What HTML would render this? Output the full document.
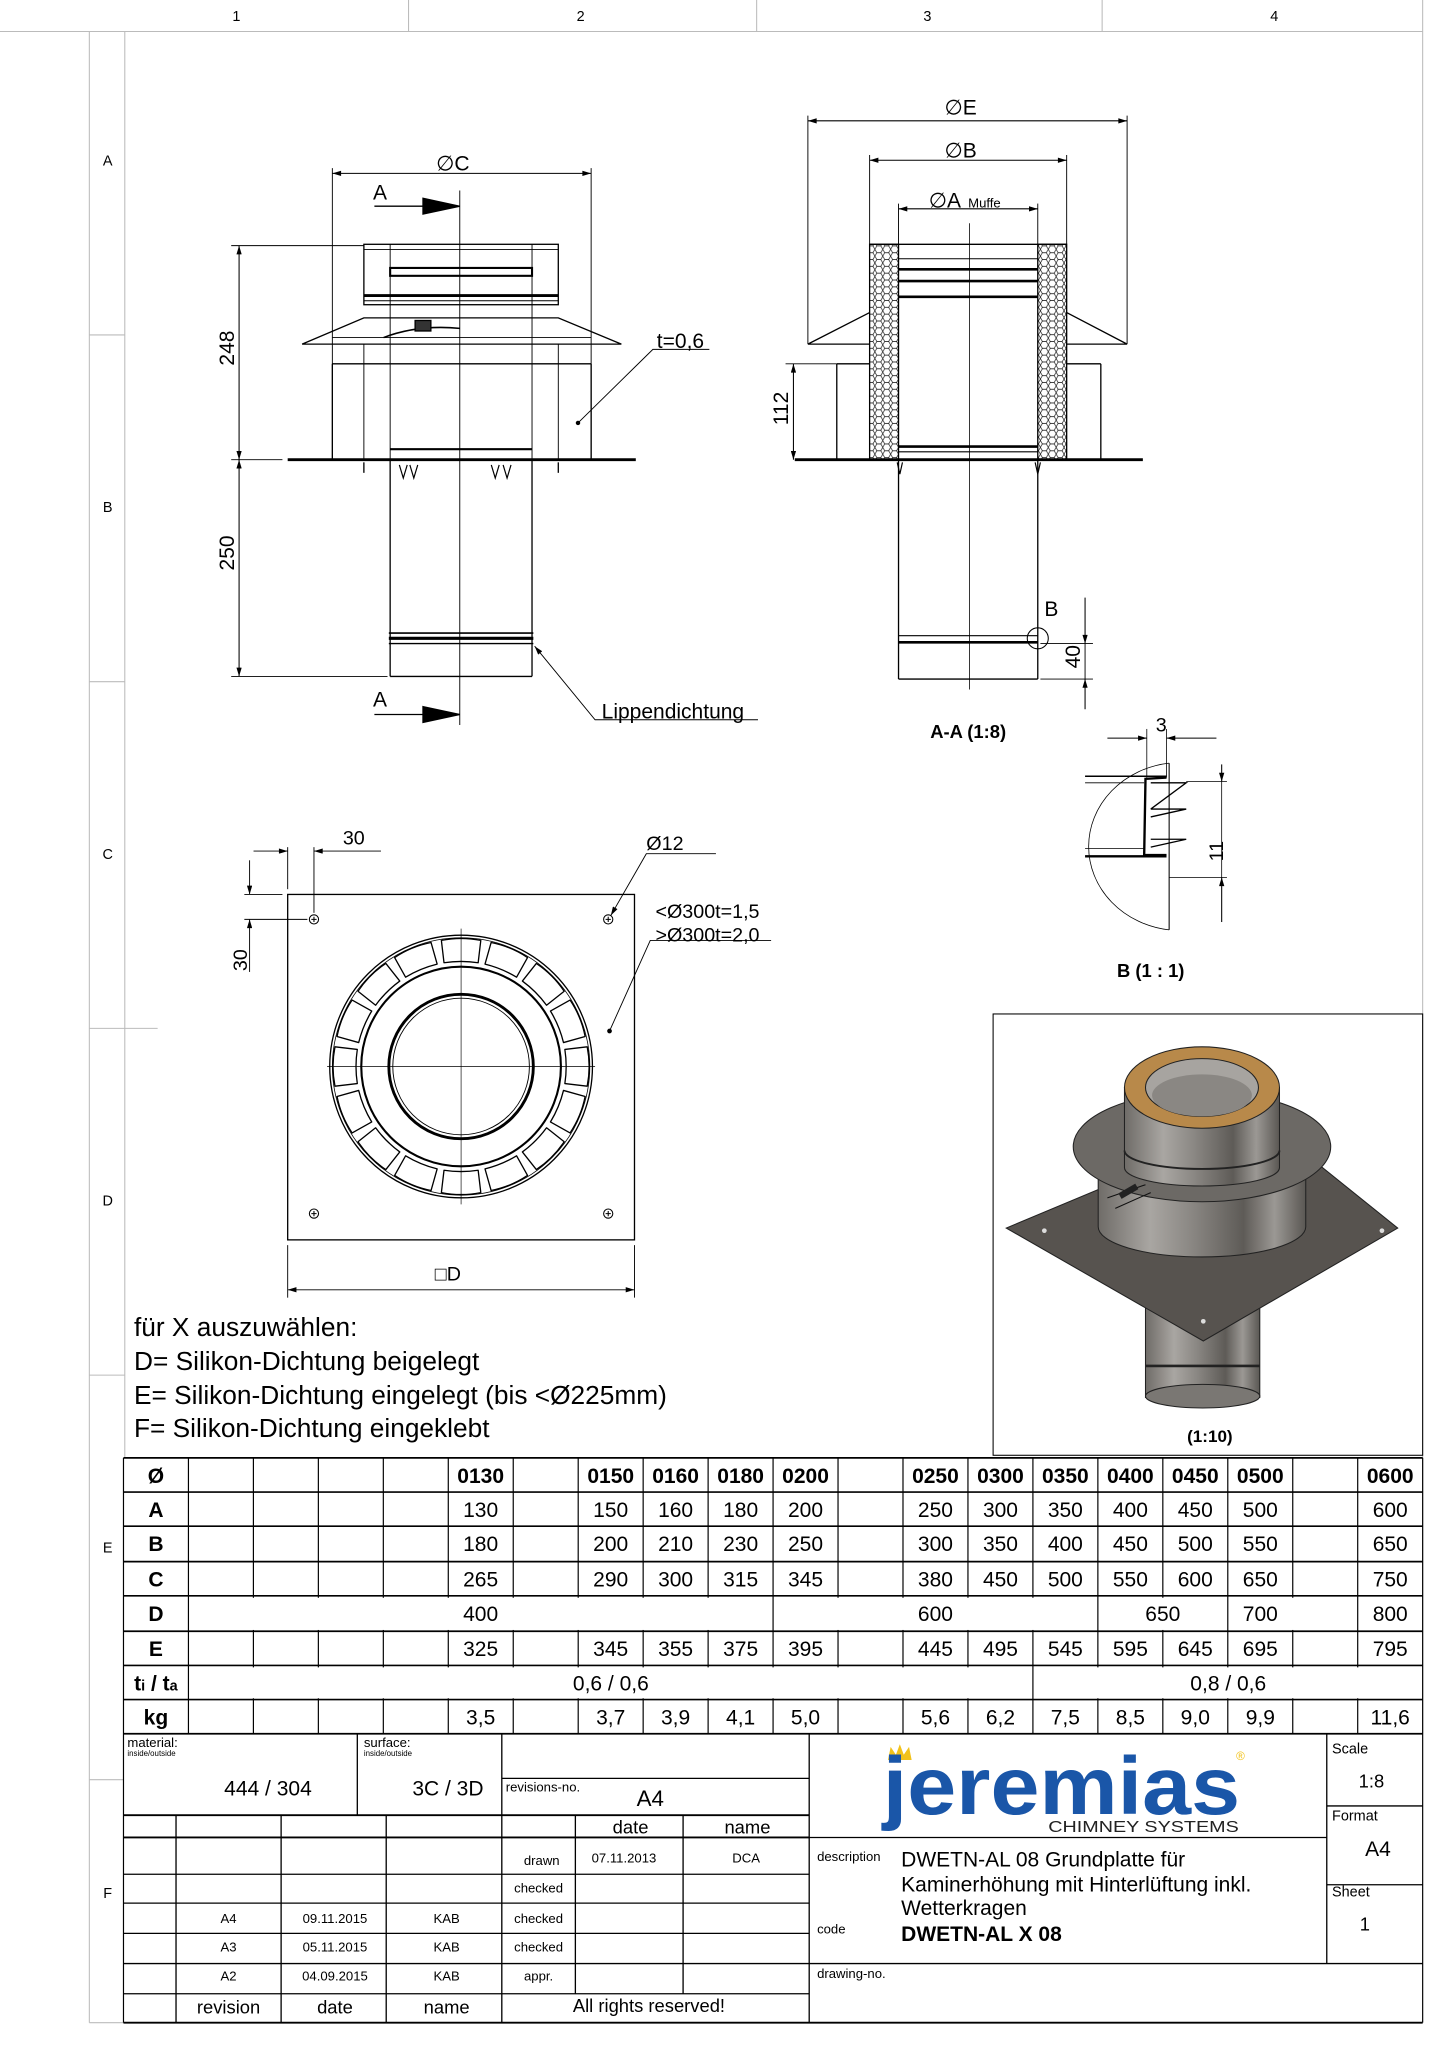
<!DOCTYPE html>
<html><head><meta charset="utf-8"><style>
html,body{margin:0;padding:0;background:#fff}
svg{display:block}
text{font-family:"Liberation Sans",Arial,sans-serif;fill:#000}
</style></head><body>
<svg width="1445" height="2045" viewBox="0 0 1100 1557" preserveAspectRatio="none" xmlns="http://www.w3.org/2000/svg">
<defs>
<pattern id="hex" width="6" height="5.2" patternUnits="userSpaceOnUse">
<path d="M1.5,0 L4.5,0 L6,2.6 L4.5,5.2 L1.5,5.2 L0,2.6 Z" fill="none" stroke="#000" stroke-width="0.5"/>
</pattern>
<marker id="ar" viewBox="0 0 10 6" refX="10" refY="3" markerWidth="10" markerHeight="4" orient="auto-start-reverse" markerUnits="userSpaceOnUse"><path d="M0,0 L10,3 L0,6 Z" fill="#000"/></marker>
<linearGradient id="met" x1="0" x2="1" y1="0" y2="0">
<stop offset="0" stop-color="#6f6c68"/><stop offset="0.25" stop-color="#a9a6a2"/><stop offset="0.45" stop-color="#8a8783"/><stop offset="0.7" stop-color="#5e5b57"/><stop offset="0.85" stop-color="#9b9894"/><stop offset="1" stop-color="#5a5753"/>
</linearGradient>
<g id="seg"><path d="M336,716 Q351,713 366,716 L364,733 Q351,731 338,733 Z" fill="none" stroke="#000" stroke-width="1" stroke-linejoin="round"/></g>
</defs>
<rect width="1100" height="1557" fill="#fff"/>

<!-- frame -->
<g stroke="#bbb" stroke-width="0.8" fill="none">
<line x1="0" y1="24" x2="1083" y2="24"/>
<line x1="311" y1="0" x2="311" y2="24"/><line x1="576" y1="0" x2="576" y2="24"/><line x1="839" y1="0" x2="839" y2="24"/>
<line x1="1083" y1="0" x2="1083" y2="1320"/>
<line x1="68" y1="24" x2="68" y2="1540"/>
<line x1="95" y1="24" x2="95" y2="1110"/>
<line x1="68" y1="255" x2="95" y2="255"/><line x1="68" y1="519" x2="95" y2="519"/><line x1="68" y1="783" x2="120" y2="783"/><line x1="68" y1="1047" x2="95" y2="1047"/><line x1="68" y1="1355" x2="94" y2="1355"/>
<line x1="68" y1="1540" x2="94" y2="1540"/>
</g>
<g font-size="11" text-anchor="middle" fill="#333">
<text x="180" y="16">1</text><text x="442" y="16">2</text><text x="706" y="16">3</text><text x="970" y="16">4</text>
<text x="82" y="126">A</text><text x="82" y="390">B</text><text x="82" y="654">C</text><text x="82" y="918">D</text><text x="82" y="1182">E</text><text x="82" y="1445">F</text>
</g>

<!-- ========== FRONT VIEW ========== -->
<g stroke="#000" fill="none" stroke-width="1">
<line x1="253" y1="128" x2="253" y2="350" stroke-width="0.7"/>
<line x1="450" y1="128" x2="450" y2="350" stroke-width="0.7"/>
<line x1="253" y1="132" x2="450" y2="132" stroke-width="0.8" marker-start="url(#ar)" marker-end="url(#ar)"/>
<line x1="350" y1="145" x2="350" y2="552" stroke-width="0.7"/>
<line x1="285" y1="157" x2="350" y2="157" stroke-width="1"/>
<path d="M322,151 L350,157 L322,163 Z" fill="#000"/>
<line x1="285" y1="544" x2="350" y2="544"/>
<path d="M322,538 L350,544 L322,550 Z" fill="#000"/>
<rect x="277" y="186" width="148" height="46"/>
<line x1="277" y1="190" x2="425" y2="190" stroke-width="0.6"/>
<line x1="297" y1="186" x2="297" y2="350" stroke-width="0.7"/>
<line x1="405" y1="186" x2="405" y2="350" stroke-width="0.7"/>
<rect x="297" y="204" width="108" height="6" stroke-width="1.6"/>
<line x1="277" y1="225" x2="425" y2="225" stroke-width="2.2"/>
<line x1="277" y1="229" x2="425" y2="229" stroke-width="0.8"/>
<path d="M230,262 L277,242 L425,242 L473,262 Z" stroke-width="1"/>
<line x1="253" y1="257" x2="450" y2="257" stroke-width="0.6"/>
<path d="M292,257 Q318,247 350,250" stroke-width="1.2"/>
<rect x="316" y="244" width="12" height="8" fill="#333"/>
<line x1="253" y1="277" x2="450" y2="277"/>
<line x1="253" y1="277" x2="253" y2="350"/>
<line x1="450" y1="277" x2="450" y2="350"/>
<line x1="277" y1="262" x2="277" y2="350" stroke-width="0.7"/>
<line x1="425" y1="262" x2="425" y2="350" stroke-width="0.7"/>
<line x1="219" y1="350" x2="484" y2="350" stroke-width="2.2"/>
<path d="M297,342 L405,342" stroke-width="1.6"/>
<path d="M304,354 l3,10 l3,-10 M312,354 l3,10 l3,-10 M374,354 l3,10 l3,-10 M383,354 l3,10 l3,-10" stroke-width="0.9"/>
<line x1="277" y1="352" x2="277" y2="360"/><line x1="425" y1="352" x2="425" y2="360"/>
<line x1="297" y1="350" x2="297" y2="515"/>
<line x1="405" y1="350" x2="405" y2="515"/>
<line x1="297" y1="515" x2="405" y2="515"/>
<line x1="296" y1="482" x2="406" y2="482" stroke-width="1.2"/>
<line x1="296" y1="486" x2="406" y2="486" stroke-width="2.4"/>
<line x1="296" y1="490" x2="406" y2="490" stroke-width="1"/>
<line x1="176" y1="187" x2="277" y2="187" stroke-width="0.7"/>
<line x1="176" y1="350" x2="215" y2="350" stroke-width="0.7"/>
<line x1="176" y1="515" x2="295" y2="515" stroke-width="0.7"/>
<line x1="182" y1="187" x2="182" y2="350" stroke-width="0.8" marker-start="url(#ar)" marker-end="url(#ar)"/>
<line x1="182" y1="350" x2="182" y2="515" stroke-width="0.8" marker-start="url(#ar)" marker-end="url(#ar)"/>
<polyline points="540,266 497,266 440,322" stroke-width="0.7"/>
<circle cx="440" cy="322" r="1.2" fill="#000"/>
<polyline points="577,548 453,548 407,492" stroke-width="0.7" marker-end="url(#ar)"/>
</g>
<g font-size="16">
<text x="332" y="130">∅C</text>
<text x="284" y="152">A</text>
<text x="284" y="538">A</text>
<text x="500" y="265">t=0,6</text>
<text x="458" y="547">Lippendichtung</text>
<text transform="translate(178,265) rotate(-90)" text-anchor="middle">248</text>
<text transform="translate(178,421) rotate(-90)" text-anchor="middle">250</text>
</g>

<!-- ========== SECTION VIEW ========== -->
<g stroke="#000" fill="none" stroke-width="1">
<line x1="615" y1="88" x2="615" y2="262" stroke-width="0.7"/>
<line x1="858" y1="88" x2="858" y2="262" stroke-width="0.7"/>
<line x1="615" y1="92" x2="858" y2="92" stroke-width="0.8" marker-start="url(#ar)" marker-end="url(#ar)"/>
<line x1="662" y1="118" x2="662" y2="186" stroke-width="0.7"/>
<line x1="812" y1="118" x2="812" y2="186" stroke-width="0.7"/>
<line x1="662" y1="122" x2="812" y2="122" stroke-width="0.8" marker-start="url(#ar)" marker-end="url(#ar)"/>
<line x1="684" y1="155" x2="684" y2="186" stroke-width="0.7"/>
<line x1="790" y1="155" x2="790" y2="186" stroke-width="0.7"/>
<line x1="684" y1="159" x2="790" y2="159" stroke-width="0.8" marker-start="url(#ar)" marker-end="url(#ar)"/>
<line x1="738" y1="170" x2="738" y2="525" stroke-width="0.6"/>
<rect x="662" y="186" width="22" height="164" fill="url(#hex)"/>
<rect x="790" y="186" width="22" height="164" fill="url(#hex)"/>
<line x1="662" y1="186" x2="812" y2="186"/>
<line x1="684" y1="197" x2="790" y2="197" stroke-width="0.7"/>
<line x1="684" y1="205" x2="790" y2="205" stroke-width="2"/>
<line x1="684" y1="214" x2="790" y2="214" stroke-width="2"/>
<line x1="684" y1="226" x2="790" y2="226" stroke-width="2"/>
<line x1="684" y1="340" x2="790" y2="340" stroke-width="2"/>
<line x1="684" y1="344" x2="790" y2="344" stroke-width="0.8"/>
<path d="M615,262 L662,238 M812,238 L858,262 M615,262 L662,262 M812,262 L858,262" stroke-width="1"/>
<path d="M637,277 L662,277 M637,277 L637,350 M812,277 L838,277 M838,277 L838,350"/>
<line x1="605" y1="350" x2="870" y2="350" stroke-width="2.2"/>
<path d="M683,352 l2,9 l2,-9 M788,352 l2,9 l2,-9" stroke-width="0.9"/>
<line x1="684" y1="350" x2="684" y2="517"/>
<line x1="790" y1="350" x2="790" y2="517"/>
<line x1="684" y1="517" x2="790" y2="517"/>
<line x1="684" y1="484" x2="790" y2="484" stroke-width="0.8"/>
<line x1="684" y1="489" x2="790" y2="489" stroke-width="2"/>
<circle cx="790" cy="486" r="8" stroke-width="0.8"/>
<line x1="598" y1="277" x2="637" y2="277" stroke-width="0.7"/>
<line x1="604" y1="277" x2="604" y2="350" stroke-width="0.8" marker-start="url(#ar)" marker-end="url(#ar)"/>
<line x1="792" y1="490" x2="832" y2="490" stroke-width="0.7"/>
<line x1="792" y1="517" x2="832" y2="517" stroke-width="0.7"/>
<line x1="826" y1="455" x2="826" y2="490" stroke-width="0.8" marker-end="url(#ar)"/>
<line x1="826" y1="540" x2="826" y2="517" stroke-width="0.8" marker-end="url(#ar)"/>
<line x1="826" y1="490" x2="826" y2="517" stroke-width="0.7"/>
</g>
<g font-size="16">
<text x="719" y="87">∅E</text>
<text x="719" y="120">∅B</text>
<text x="707" y="158">∅A</text><text x="737" y="158" font-size="10">Muffe</text>
<text x="795" y="469">B</text>
<text transform="translate(600,311) rotate(-90)" text-anchor="middle">112</text>
<text transform="translate(822,500) rotate(-90)" text-anchor="middle">40</text>
<text x="737" y="562" font-weight="bold" font-size="14" text-anchor="middle">A-A (1:8)</text>
</g>

<!-- ========== DETAIL B ========== -->
<g stroke="#000" fill="none" stroke-width="0.8">
<path d="M890,581 A70,64 0 0 0 890,708" stroke-width="0.6"/>
<line x1="873" y1="555" x2="873" y2="592" stroke-width="0.6"/>
<line x1="888" y1="555" x2="888" y2="592" stroke-width="0.6"/>
<line x1="890" y1="581" x2="890" y2="708"/>
<line x1="843" y1="562" x2="873" y2="562" marker-end="url(#ar)"/>
<line x1="926" y1="562" x2="888" y2="562" marker-end="url(#ar)"/>
<line x1="826" y1="591" x2="888" y2="591" stroke-width="1.2"/>
<line x1="826" y1="596" x2="871" y2="596" stroke-width="0.6"/>
<line x1="826" y1="646" x2="871" y2="646" stroke-width="0.6"/>
<line x1="826" y1="652" x2="888" y2="652" stroke-width="1.8"/>
<path d="M888,592 L872,593 L871,651 L888,651" stroke-width="1.8"/>
<path d="M876,596 L903,596 L876,616 M876,616 L903,616 L876,622 M876,639 L903,639 L876,645" stroke-width="1"/>
<line x1="903" y1="595" x2="934" y2="595" stroke-width="0.6"/>
<line x1="890" y1="668" x2="934" y2="668" stroke-width="0.6"/>
<line x1="930" y1="582" x2="930" y2="595" marker-end="url(#ar)"/>
<line x1="930" y1="702" x2="930" y2="668" marker-end="url(#ar)"/>
<line x1="930" y1="595" x2="930" y2="668" stroke-width="0.6"/>
</g>
<text x="884" y="557" font-size="15" text-anchor="middle">3</text>
<text transform="translate(931,648) rotate(-90)" font-size="15" text-anchor="middle">11</text>
<text x="876" y="744" font-size="14" font-weight="bold" text-anchor="middle">B (1 : 1)</text>

<!-- ========== PLAN VIEW ========== -->
<g stroke="#000" fill="none" stroke-width="1">
<rect x="219" y="681" width="264" height="263"/>
<circle cx="351" cy="812" r="100"/>
<circle cx="351" cy="812" r="98" stroke-width="0.6"/>
<circle cx="351" cy="812" r="76" stroke-width="1.6"/>
<circle cx="351" cy="812" r="55" stroke-width="2.2"/>
<circle cx="351" cy="812" r="52" stroke-width="0.7"/>
<line x1="351" y1="707" x2="351" y2="917" stroke-width="0.5"/>
<line x1="249" y1="812" x2="453" y2="812" stroke-width="0.5"/>
<use href="#seg"/><use href="#seg" transform="rotate(22.5 351 812)"/><use href="#seg" transform="rotate(45 351 812)"/><use href="#seg" transform="rotate(67.5 351 812)"/>
<use href="#seg" transform="rotate(90 351 812)"/><use href="#seg" transform="rotate(112.5 351 812)"/><use href="#seg" transform="rotate(135 351 812)"/><use href="#seg" transform="rotate(157.5 351 812)"/>
<use href="#seg" transform="rotate(180 351 812)"/><use href="#seg" transform="rotate(202.5 351 812)"/><use href="#seg" transform="rotate(225 351 812)"/><use href="#seg" transform="rotate(247.5 351 812)"/>
<use href="#seg" transform="rotate(270 351 812)"/><use href="#seg" transform="rotate(292.5 351 812)"/><use href="#seg" transform="rotate(315 351 812)"/><use href="#seg" transform="rotate(337.5 351 812)"/>
<g stroke-width="0.8">
<circle cx="239" cy="700" r="3.5"/><path d="M237,700h4M239,698v4"/>
<circle cx="463" cy="700" r="3.5"/><path d="M461,700h4M463,698v4"/>
<circle cx="239" cy="924" r="3.5"/><path d="M237,924h4M239,922v4"/>
<circle cx="463" cy="924" r="3.5"/><path d="M461,924h4M463,922v4"/>
</g>
<g stroke-width="0.7">
<line x1="219" y1="645" x2="219" y2="677"/>
<line x1="239" y1="645" x2="239" y2="695"/>
<line x1="193" y1="648" x2="219" y2="648" marker-end="url(#ar)"/>
<line x1="290" y1="648" x2="239" y2="648" marker-end="url(#ar)"/>
<line x1="186" y1="681" x2="215" y2="681"/>
<line x1="186" y1="700" x2="234" y2="700"/>
<line x1="190" y1="655" x2="190" y2="681" marker-end="url(#ar)"/>
<line x1="190" y1="740" x2="190" y2="700" marker-end="url(#ar)"/>
<line x1="219" y1="948" x2="219" y2="988"/>
<line x1="483" y1="948" x2="483" y2="988"/>
<line x1="219" y1="982" x2="483" y2="982" marker-start="url(#ar)" marker-end="url(#ar)"/>
<polyline points="545,650 492,650 465,697" marker-end="url(#ar)"/>
<polyline points="587,716 495,716 464,785"/>
</g>
<circle cx="464" cy="785" r="1.3" fill="#000"/>
</g>
<g font-size="15">
<text x="261" y="643">30</text>
<text transform="translate(188,731) rotate(-90)" text-anchor="middle">30</text>
<text x="492" y="647">Ø12</text>
<text x="499" y="699">&lt;Ø300t=1,5</text>
<text x="499" y="717">&gt;Ø300t=2,0</text>
<text x="331" y="975">□D</text>
</g>

<!-- notes -->
<g font-size="20">
<text x="102" y="1017">für X auszuwählen:</text>
<text x="102" y="1043">D= Silikon-Dichtung beigelegt</text>
<text x="102" y="1069">E= Silikon-Dichtung eingelegt (bis &lt;Ø225mm)</text>
<text x="102" y="1094">F= Silikon-Dichtung eingeklebt</text>
</g>

<!-- ========== 3D ========== -->
<rect x="756" y="772" width="327" height="336" fill="none" stroke="#000" stroke-width="0.8"/>
<g stroke="#222" stroke-width="0.8">
<rect x="872" y="940" width="87" height="124" fill="url(#met)"/>
<ellipse cx="915.5" cy="1063" rx="43.5" ry="9" fill="#7a7773"/>
<line x1="872" y1="1040" x2="959" y2="1040" stroke-width="2"/>
<polygon points="766,935 962,853 1064,935 916,1021" fill="#57534f"/>
<circle cx="795" cy="937" r="1.8" fill="#ddd" stroke="none"/><circle cx="1052" cy="937" r="1.8" fill="#ddd" stroke="none"/><circle cx="916" cy="1006" r="1.8" fill="#ddd" stroke="none"/>
<path d="M836,873 L836,934 A79,23 0 0 0 994,934 L994,873 Z" fill="url(#met)"/>
<ellipse cx="915" cy="873" rx="98" ry="42" fill="#6c6965"/>
<path d="M856,828 L856,889 A59,14 0 0 0 974,889 L974,828 Z" fill="url(#met)"/>
<path d="M856,876 A59,14 0 0 0 974,876" fill="none" stroke-width="1.4"/>
<ellipse cx="915" cy="828" rx="59" ry="31" fill="#b8894a"/>
<ellipse cx="915" cy="828" rx="43" ry="22" fill="#a7a4a0"/>
<ellipse cx="915" cy="834" rx="38" ry="16" fill="#8a8783" stroke="none"/>
<path d="M843,912 L872,902 M849,920 L876,908" stroke="#111" stroke-width="0.8" fill="none"/>
<rect x="852" y="905" width="14" height="4" fill="#222" transform="rotate(-30 859 907)"/>
</g>
<text x="921" y="1098" font-size="13" font-weight="bold" text-anchor="middle">(1:10)</text>

<!-- ========== TABLE ========== -->
<g stroke="#000" stroke-width="1.3" fill="none">
<line x1="94" y1="1110" x2="1083" y2="1110"/><line x1="94" y1="1136" x2="1083" y2="1136"/><line x1="94" y1="1162" x2="1083" y2="1162"/><line x1="94" y1="1189" x2="1083" y2="1189"/><line x1="94" y1="1215" x2="1083" y2="1215"/><line x1="94" y1="1242" x2="1083" y2="1242"/><line x1="94" y1="1268" x2="1083" y2="1268"/><line x1="94" y1="1294" x2="1083" y2="1294"/><line x1="94" y1="1320" x2="1083" y2="1320"/>
</g>
<g stroke="#000" stroke-width="0.9">
<line x1="94" y1="1110" x2="94" y2="1540"/><line x1="143.45" y1="1110" x2="143.45" y2="1320"/><line x1="192.9" y1="1110" x2="192.9" y2="1320"/><line x1="242.35" y1="1110" x2="242.35" y2="1320"/><line x1="291.8" y1="1110" x2="291.8" y2="1320"/><line x1="341.25" y1="1110" x2="341.25" y2="1320"/><line x1="390.7" y1="1110" x2="390.7" y2="1320"/><line x1="440.15" y1="1110" x2="440.15" y2="1320"/><line x1="489.6" y1="1110" x2="489.6" y2="1320"/><line x1="539.05" y1="1110" x2="539.05" y2="1320"/><line x1="588.5" y1="1110" x2="588.5" y2="1320"/><line x1="637.95" y1="1110" x2="637.95" y2="1320"/><line x1="687.4" y1="1110" x2="687.4" y2="1320"/><line x1="736.85" y1="1110" x2="736.85" y2="1320"/><line x1="786.3" y1="1110" x2="786.3" y2="1320"/><line x1="835.75" y1="1110" x2="835.75" y2="1320"/><line x1="885.2" y1="1110" x2="885.2" y2="1320"/><line x1="934.65" y1="1110" x2="934.65" y2="1320"/><line x1="984.1" y1="1110" x2="984.1" y2="1320"/><line x1="1033.55" y1="1110" x2="1033.55" y2="1320"/><line x1="1083" y1="1110" x2="1083" y2="1540"/>
</g>
<g fill="#fff">
<rect x="145" y="1216.5" width="442" height="24.5"/>
<rect x="590" y="1216.5" width="244" height="24.5"/>
<rect x="837.5" y="1216.5" width="95.5" height="24.5"/>
<rect x="936.5" y="1216.5" width="95.5" height="24.5"/>
<rect x="145" y="1269.5" width="640" height="23.5"/>
<rect x="788" y="1269.5" width="294" height="23.5"/>
</g>
<g font-size="16" text-anchor="middle">
<g font-weight="bold">
<text x="118.7" y="1129">Ø</text><text x="118.7" y="1155">A</text><text x="118.7" y="1181">B</text><text x="118.7" y="1208">C</text><text x="118.7" y="1234">D</text><text x="118.7" y="1261">E</text><text x="118.7" y="1287">t<tspan font-size="11">i</tspan> / t<tspan font-size="11">a</tspan></text><text x="118.7" y="1313">kg</text>
<text x="365.9" y="1129">0130</text><text x="464.9" y="1129">0150</text><text x="514.3" y="1129">0160</text><text x="563.8" y="1129">0180</text><text x="613.2" y="1129">0200</text><text x="712.1" y="1129">0250</text><text x="761.6" y="1129">0300</text><text x="811" y="1129">0350</text><text x="860.5" y="1129">0400</text><text x="909.9" y="1129">0450</text><text x="959.4" y="1129">0500</text><text x="1058.3" y="1129">0600</text>
</g>
<text x="365.9" y="1155">130</text><text x="464.9" y="1155">150</text><text x="514.3" y="1155">160</text><text x="563.8" y="1155">180</text><text x="613.2" y="1155">200</text><text x="712.1" y="1155">250</text><text x="761.6" y="1155">300</text><text x="811" y="1155">350</text><text x="860.5" y="1155">400</text><text x="909.9" y="1155">450</text><text x="959.4" y="1155">500</text><text x="1058.3" y="1155">600</text>
<text x="365.9" y="1181">180</text><text x="464.9" y="1181">200</text><text x="514.3" y="1181">210</text><text x="563.8" y="1181">230</text><text x="613.2" y="1181">250</text><text x="712.1" y="1181">300</text><text x="761.6" y="1181">350</text><text x="811" y="1181">400</text><text x="860.5" y="1181">450</text><text x="909.9" y="1181">500</text><text x="959.4" y="1181">550</text><text x="1058.3" y="1181">650</text>
<text x="365.9" y="1208">265</text><text x="464.9" y="1208">290</text><text x="514.3" y="1208">300</text><text x="563.8" y="1208">315</text><text x="613.2" y="1208">345</text><text x="712.1" y="1208">380</text><text x="761.6" y="1208">450</text><text x="811" y="1208">500</text><text x="860.5" y="1208">550</text><text x="909.9" y="1208">600</text><text x="959.4" y="1208">650</text><text x="1058.3" y="1208">750</text>
<text x="365.9" y="1234">400</text><text x="712.1" y="1234">600</text><text x="885.2" y="1234">650</text><text x="959.4" y="1234">700</text><text x="1058.3" y="1234">800</text>
<text x="365.9" y="1261">325</text><text x="464.9" y="1261">345</text><text x="514.3" y="1261">355</text><text x="563.8" y="1261">375</text><text x="613.2" y="1261">395</text><text x="712.1" y="1261">445</text><text x="761.6" y="1261">495</text><text x="811" y="1261">545</text><text x="860.5" y="1261">595</text><text x="909.9" y="1261">645</text><text x="959.4" y="1261">695</text><text x="1058.3" y="1261">795</text>
<text x="465" y="1287">0,6 / 0,6</text><text x="935" y="1287">0,8 / 0,6</text>
<text x="365.9" y="1313">3,5</text><text x="464.9" y="1313">3,7</text><text x="514.3" y="1313">3,9</text><text x="563.8" y="1313">4,1</text><text x="613.2" y="1313">5,0</text><text x="712.1" y="1313">5,6</text><text x="761.6" y="1313">6,2</text><text x="811" y="1313">7,5</text><text x="860.5" y="1313">8,5</text><text x="909.9" y="1313">9,0</text><text x="959.4" y="1313">9,9</text><text x="1058.3" y="1313">11,6</text>
</g>

<!-- ========== TITLE BLOCK ========== -->
<g stroke="#000" stroke-width="1" fill="none">
<line x1="272" y1="1320" x2="272" y2="1382"/>
<line x1="382" y1="1320" x2="382" y2="1540"/>
<line x1="616" y1="1320" x2="616" y2="1540"/>
<line x1="1010" y1="1320" x2="1010" y2="1495"/>
<line x1="382" y1="1354" x2="616" y2="1354"/>
<line x1="94" y1="1382" x2="616" y2="1382" stroke-width="1.4"/>
<line x1="94" y1="1399" x2="616" y2="1399" stroke-width="1.4"/>
<line x1="616" y1="1399" x2="1010" y2="1399"/>
<line x1="94" y1="1427" x2="616" y2="1427"/>
<line x1="94" y1="1449" x2="616" y2="1449"/>
<line x1="94" y1="1472" x2="616" y2="1472"/>
<line x1="94" y1="1495" x2="616" y2="1495"/>
<line x1="616" y1="1495" x2="1083" y2="1495"/>
<line x1="94" y1="1518" x2="616" y2="1518"/>
<line x1="94" y1="1540" x2="1083" y2="1540" stroke-width="1.4"/>
<line x1="134" y1="1382" x2="134" y2="1540"/>
<line x1="214" y1="1382" x2="214" y2="1540"/>
<line x1="294" y1="1382" x2="294" y2="1540"/>
<line x1="438" y1="1382" x2="438" y2="1518"/>
<line x1="520" y1="1382" x2="520" y2="1518"/>
<line x1="1010" y1="1375" x2="1083" y2="1375"/>
<line x1="1010" y1="1435" x2="1083" y2="1435"/>
</g>
<g font-size="10">
<text x="97" y="1330">material:</text><text x="97" y="1337" font-size="6">inside/outside</text>
<text x="277" y="1330">surface:</text><text x="277" y="1337" font-size="6">inside/outside</text>
<text x="385" y="1364">revisions-no.</text>
<text x="426" y="1420" text-anchor="end">drawn</text>
<text x="475" y="1418" text-anchor="middle">07.11.2013</text>
<text x="568" y="1418" text-anchor="middle">DCA</text>
<text x="410" y="1441" text-anchor="middle">checked</text>
<text x="410" y="1464" text-anchor="middle">checked</text>
<text x="410" y="1486" text-anchor="middle">checked</text>
<text x="410" y="1508" text-anchor="middle">appr.</text>
<text x="174" y="1464" text-anchor="middle">A4</text><text x="255" y="1464" text-anchor="middle">09.11.2015</text><text x="340" y="1464" text-anchor="middle">KAB</text>
<text x="174" y="1486" text-anchor="middle">A3</text><text x="255" y="1486" text-anchor="middle">05.11.2015</text><text x="340" y="1486" text-anchor="middle">KAB</text>
<text x="174" y="1508" text-anchor="middle">A2</text><text x="255" y="1508" text-anchor="middle">04.09.2015</text><text x="340" y="1508" text-anchor="middle">KAB</text>
<text x="622" y="1417">description</text>
<text x="622" y="1472">code</text>
<text x="622" y="1506">drawing-no.</text>
<text x="1014" y="1335" font-size="11">Scale</text>
<text x="1014" y="1386" font-size="11">Format</text>
<text x="1014" y="1444" font-size="11">Sheet</text>
</g>
<g font-size="15" text-anchor="middle">
<text x="204" y="1367" font-size="16">444 / 304</text>
<text x="341" y="1367" font-size="16">3C / 3D</text>
<text x="495" y="1375" font-size="17">A4</text>
<text x="480" y="1396" font-size="14">date</text>
<text x="569" y="1396" font-size="14">name</text>
<text x="174" y="1533" font-size="14">revision</text><text x="255" y="1533" font-size="14">date</text><text x="340" y="1533" font-size="14">name</text>
<text x="494" y="1532" font-size="14">All rights reserved!</text>
<text x="1044" y="1361" font-size="14">1:8</text>
<text x="1049" y="1413" font-size="16">A4</text>
<text x="1039" y="1470" font-size="14">1</text>
</g>
<g font-size="16">
<text x="686" y="1421">DWETN-AL 08 Grundplatte für</text>
<text x="686" y="1440">Kaminerhöhung mit Hinterlüftung inkl.</text>
<text x="686" y="1458">Wetterkragen</text>
<text x="686" y="1478" font-weight="bold">DWETN-AL X 08</text>
</g>
<path d="M676,1340 L678,1330 L682,1336 L685,1328 L688,1336 L692,1330 L694,1340 Z" fill="#f2c21a"/>
<text x="672" y="1381" font-size="62" font-weight="bold" style="fill:#1a56a8" textLength="272" lengthAdjust="spacingAndGlyphs">jeremias</text>
<text x="941" y="1340" font-size="9" style="fill:#f2c21a">®</text>
<text x="798" y="1395" font-size="12" style="fill:#222" textLength="145" lengthAdjust="spacingAndGlyphs">CHIMNEY SYSTEMS</text>
</svg>
</body></html>
